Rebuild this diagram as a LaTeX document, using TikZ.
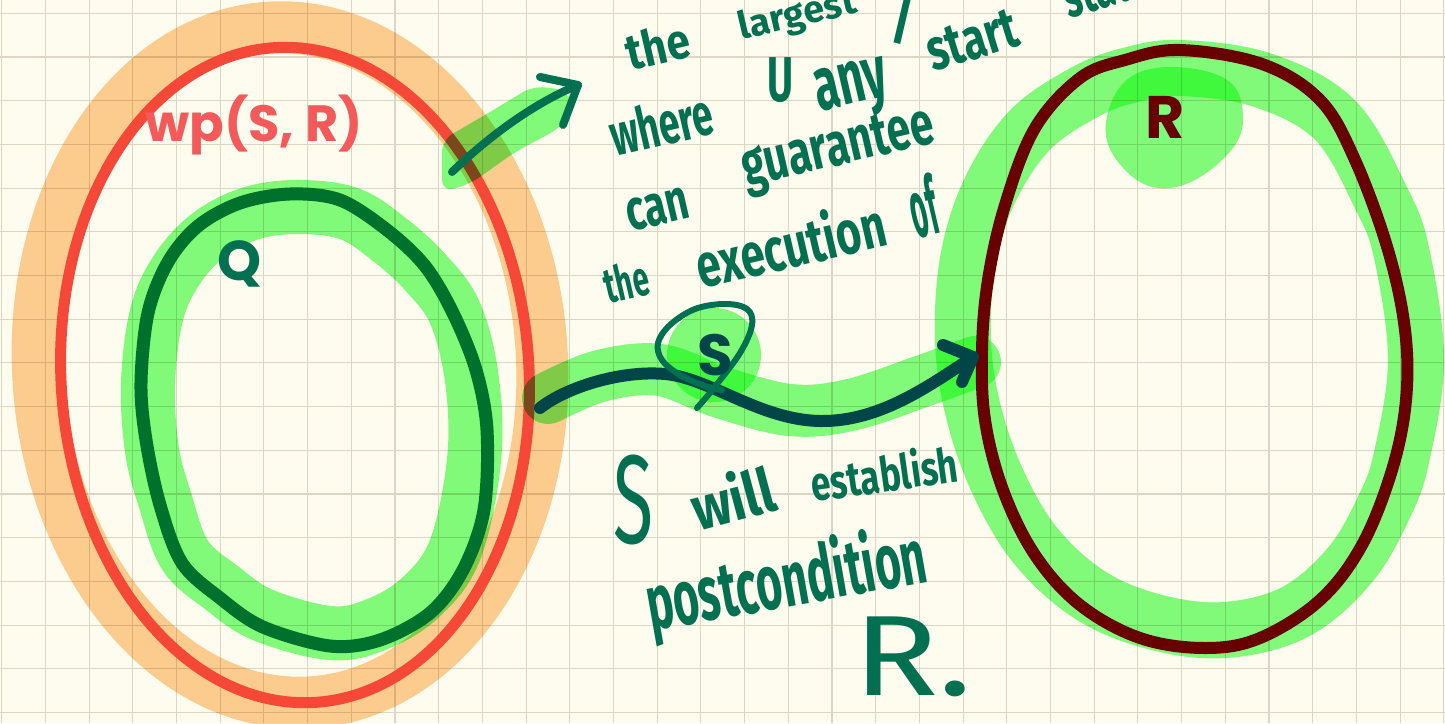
\documentclass[tikz,border=0pt]{standalone}
\usepackage{fontspec}
\usepackage{graphicx}
\newfontfamily\labelfont{Poppins}
\newfontfamily\handfont{Fira Sans}

\definecolor{paper}{RGB}{254,252,238}
\definecolor{gridline}{RGB}{222,214,197}
\definecolor{hlgreen}{RGB}{129,253,129}
\definecolor{hlorange}{RGB}{253,207,153}
\definecolor{penred}{RGB}{246,72,56}
\definecolor{labelred}{RGB}{245,90,90}
\definecolor{penforest}{RGB}{0,113,44}
\definecolor{penteal}{RGB}{0,112,80}
\definecolor{pendeep}{RGB}{0,70,72}
\definecolor{penmaroon}{RGB}{104,0,0}

\tikzset{
  highlighter/.style={blend mode=multiply, line cap=round, line join=round},
  pen/.style={line cap=round, line join=round},
  hw/.style={text=penteal, inner sep=0pt, font=\handfont\bfseries},
  lbl/.style={inner sep=0pt, font=\labelfont\bfseries\fontsize{#1}{#1}\selectfont},
}

% handwritten word fitted to its box: [angle]{name}{x1}{y1}{x2}{y2}{text}
% (x1,y1)-(x2,y2) is the box on the page, y measured downwards
\newcommand\hwword[7][13]{%
  \pgfmathsetmacro\hwc{cos(#1)}%
  \pgfmathsetmacro\hws{sin(#1)}%
  \pgfmathsetmacro\hwd{\hwc*\hwc-\hws*\hws}%
  \pgfmathsetmacro\hwW{((#5)-(#3))*\hwc/\hwd-((#6)-(#4))*\hws/\hwd}%
  \pgfmathsetmacro\hwH{((#6)-(#4))*\hwc/\hwd-((#5)-(#3))*\hws/\hwd}%
  \pgfmathsetmacro\hwX{(#3)+\hwH*\hws}%
  \node[hw, rotate=#1, anchor=south west] (#2) at (\hwX,-#6)
    {\resizebox*{\hwW pt}{\hwH pt}{#7}};%
}

\begin{document}
\begin{tikzpicture}[x=1pt,y=1pt]
\useasboundingbox (0,0) rectangle (1445,-723);
\clip (0,0) rectangle (1445,-723);

% squared paper
\fill[paper] (0,0) rectangle (1445,-723);
\foreach \k in {0,...,33}
  \draw[gridline, line width=1.1pt] ({1.7+43.7*\k},0) -- ({1.7+43.7*\k},-723);
\foreach \k in {0,...,16}
  \draw[gridline, line width=1.1pt] (0,{-13.3-43.7*\k}) -- (1445,{-13.3-43.7*\k});

% weakest precondition: orange marker and red outline
\draw[highlighter, hlorange, line width=52pt, rotate around={3.5:(290,-365)}]
  (290,-365) ellipse [x radius=252pt, y radius=338pt];
\draw[pen, penred, line width=11pt, rotate around={3.5:(295,-375)}]
  (295,-375) ellipse [x radius=234pt, y radius=328pt];

% green marker strokes
\draw[highlighter, hlgreen, line width=54pt] plot[smooth cycle, tension=0.6] coordinates {
  (157,-313) (178,-268) (210,-234) (252,-213) (300,-207) (350,-214) (390,-240) (425,-272)
  (455,-313) (472,-380) (474,-460) (455,-550) (420,-598) (375,-625) (330,-633)
  (263,-615) (222,-588) (185,-555) (165,-500) (152,-450) (148,-383)};
\fill[highlighter, hlgreen, rounded corners=12pt]
  (442,-140) -- (490,-112) -- (533,-86) -- (567,-90) -- (574,-108) -- (560,-128)
  -- (515,-152) -- (470,-184) -- (442,-192) -- cycle;
\draw[highlighter, hlgreen, line width=52pt] plot[smooth, tension=0.6] coordinates {
  (548,-398) (600,-376) (660,-370) (720,-392) (790,-410) (850,-405) (920,-382) (975,-362)};
\fill[highlighter, hlgreen] (714,-355) circle [radius=47pt];
\draw[highlighter, hlgreen, line width=56pt] plot[smooth cycle, tension=0.6] coordinates {
  (1180,-68) (1262,-80) (1335,-120) (1382,-200) (1402,-255) (1416,-360) (1402,-455)
  (1385,-505) (1350,-565) (1295,-612) (1225,-630) (1155,-622) (1090,-595) (1035,-545)
  (997,-480) (973,-410) (963,-340) (968,-260) (990,-190) (1030,-130) (1085,-92) (1130,-75)};
\fill[highlighter, hlgreen] plot[smooth cycle, tension=0.7] coordinates {
  (1140,-72) (1220,-76) (1243,-118) (1222,-160) (1170,-188) (1125,-170) (1106,-122)};

% precondition Q and postcondition R
\draw[pen, penforest, line width=13pt] plot[smooth cycle, tension=0.55] coordinates {
  (141,-383) (148,-313) (168,-262) (198,-226) (240,-203) (290,-194) (340,-200)
  (387,-230) (425,-266) (453,-313) (476,-370) (487,-430) (484,-510) (463,-570)
  (430,-613) (380,-640) (330,-646) (263,-627) (220,-598) (182,-563) (160,-505) (146,-440)};
\draw[pen, penmaroon, line width=12pt] plot[smooth cycle, tension=0.6] coordinates {
  (1180,-50) (1262,-64) (1320,-100) (1355,-160) (1388,-250) (1405,-330) (1406,-400)
  (1392,-470) (1362,-545) (1320,-600) (1260,-638) (1205,-648) (1140,-638) (1080,-605)
  (1035,-555) (1003,-490) (985,-420) (982,-350) (988,-280) (1005,-205) (1035,-128)
  (1080,-78) (1125,-60)};

% arrow towards the note
\coordinate (up-tail) at (452,-172);
\coordinate (up-head) at (578,-85);
\draw[pen, penteal, line width=8pt]
  (up-tail) .. controls (485,-140) and (530,-105) .. (up-head);
\draw[pen, penteal, line width=8pt]
  ([shift={(-38,8)}]up-head) -- (up-head) -- ([shift={(-15,-40)}]up-head);

% the statement S carries Q into R
\coordinate (s-tail) at (540,-408);
\coordinate (s-head) at (973,-357);
\draw[pen, pendeep, line width=12pt]
  (s-tail) .. controls (565,-388) and (620,-370) .. (665,-374)
  .. controls (710,-378) and (760,-420) .. (820,-421)
  .. controls (880,-422) and (930,-385) .. (s-head);
\draw[pen, pendeep, line width=12pt]
  ([shift={(-30,12)}]s-head) -- (s-head) -- ([shift={(-11,-25)}]s-head);
\draw[pen, penteal, line width=6pt] plot[smooth, tension=0.6] coordinates {
  (697,-408) (713,-389) (740,-353) (752,-325) (747,-309) (725,-304) (695,-309)
  (670,-325) (658,-343) (662,-360) (680,-375) (705,-386) (722,-390)};

% labels
\node[lbl=51, text=labelred, anchor=base] (wp) at (254,-141) {wp(S, R)};
\node[lbl=56, text=penteal, anchor=base] (qlab) at (240,-280) {Q};
\node[lbl=60, text=penmaroon, anchor=base] (rlab) at (1165,-138) {R};
\node[lbl=58, text=pendeep, anchor=base] (slab) at (715,-375) {S};

% handwritten note
\hwword{w-the1}{622}{20}{693}{72}{the}
\hwword{w-largest}{735}{-15}{860}{48}{largest}
\hwword[0]{w-slash}{890}{-5}{915}{45}{/}
\hwword{w-where}{605}{90}{717}{158}{where}
\hwword[0]{w-caret}{767}{58}{793}{103}{U}
\hwword{w-any}{810}{55}{895}{128}{any}
\hwword[17]{w-start}{922}{8}{1022}{73}{start}
\hwword[17]{w-state}{1058}{-42}{1150}{20}{state}
\hwword{w-can}{623}{187}{692}{233}{can}
\hwword{w-guarantee}{737}{103}{940}{200}{guarantee}
\hwword{w-the2}{600}{258}{652}{305}{the}
\hwword{w-execution}{690}{197}{890}{290}{execution}
\hwword{w-of}{903}{173}{943}{240}{of}
\hwword[0]{w-S}{613}{455}{653}{545}{\mdseries S}
\hwword[15]{w-will}{685}{462}{780}{533}{will}
\hwword[8]{w-establish}{808}{443}{960}{503}{establish}
\hwword[10]{w-postcondition}{640}{520}{933}{648}{postcondition}
\hwword[0]{w-R}{853}{617}{972}{697}{\mdseries R.}
\end{tikzpicture}
\end{document}
